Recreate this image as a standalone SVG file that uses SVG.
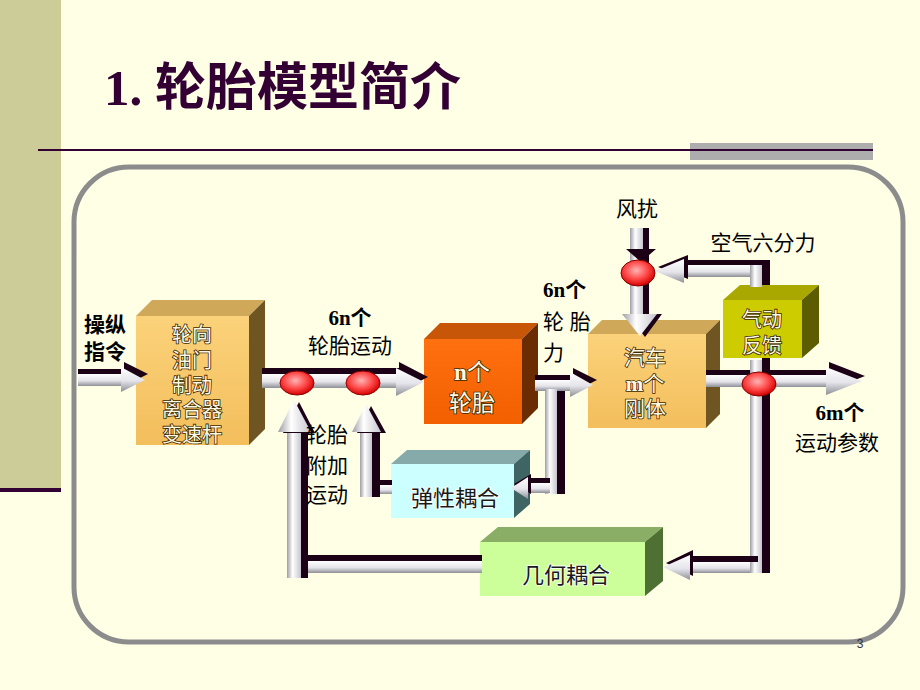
<svg xmlns="http://www.w3.org/2000/svg" width="920" height="690" viewBox="0 0 920 690">
<defs>
<linearGradient id="hs" x1="0" y1="0" x2="0" y2="1"><stop offset="0" stop-color="#FFFFFF"/><stop offset="0.55" stop-color="#E4E4EA"/><stop offset="1" stop-color="#8E8E96"/></linearGradient>
<linearGradient id="vs" x1="0" y1="0" x2="1" y2="0"><stop offset="0" stop-color="#9C9CA4"/><stop offset="0.4" stop-color="#FFFFFF"/><stop offset="1" stop-color="#C4C4CC"/></linearGradient>
<radialGradient id="red" cx="0.45" cy="0.4" r="0.6"><stop offset="0" stop-color="#FFB4B4"/><stop offset="0.55" stop-color="#FF4A4A"/><stop offset="1" stop-color="#D40000"/></radialGradient>
<linearGradient id="gold" x1="0" y1="0" x2="0" y2="1"><stop offset="0" stop-color="#FBD27A"/><stop offset="1" stop-color="#F3BE5C"/></linearGradient>
<linearGradient id="orange" x1="0" y1="0" x2="0" y2="1"><stop offset="0" stop-color="#FF7010"/><stop offset="1" stop-color="#F26000"/></linearGradient>
<style>
.dk{fill:#1C0016}
.hs{fill:url(#hs)}
.vs{fill:url(#vs)}
.el{fill:url(#red);stroke:#8A0000;stroke-width:1}
.lab{font-family:"Liberation Sans","Noto Sans CJK SC",sans-serif;font-size:21px;fill:#000}
.b{font-weight:bold}
.ser{font-family:"Liberation Serif",serif;font-weight:bold}
.lt{font-family:"Liberation Sans","Noto Sans CJK SC",sans-serif;fill:#FFF8E2;stroke:#3A2800;stroke-width:1.6;paint-order:stroke;text-anchor:middle}
.dt{font-family:"Liberation Sans","Noto Sans CJK SC",sans-serif;fill:#1A1A1A;stroke:#FFFFFF;stroke-width:1.6;paint-order:stroke;text-anchor:middle;font-size:22px}
</style>
</defs>
<rect x="0" y="0" width="920" height="690" fill="#FFFFE6"/>
<rect x="0" y="0" width="61" height="490" fill="#CCCC99"/>
<rect x="0" y="488" width="61" height="4" fill="#330033"/>
<text x="104" y="105" font-family="Liberation Serif,'Noto Sans CJK SC',serif" font-weight="bold" font-size="51" fill="#330033">1. <tspan font-family="Noto Sans CJK SC,sans-serif">轮胎模型简介</tspan></text>
<rect x="690" y="143" width="183" height="17" fill="#ADADAD"/>
<line x1="38" y1="150" x2="873" y2="150" stroke="#330033" stroke-width="2"/>
<rect x="74" y="167" width="829" height="475" rx="55" ry="55" fill="none" stroke="#8C8C8C" stroke-width="5"/>
<text x="860" y="648" font-family="Liberation Sans,sans-serif" font-size="12" fill="#333" text-anchor="middle">3</text>

<g id="box-control">
<polygon points="136,316 152,300 265,300 249,316" fill="#CFA85A"/>
<polygon points="249,316 265,300 265,429 249,445" fill="#6E5522"/>
<rect x="136" y="316" width="113" height="129" fill="url(#gold)"/>
<text class="lt" font-size="20"><tspan x="192" y="342">轮向</tspan><tspan x="192" y="368">油门</tspan><tspan x="192" y="393">制动</tspan><tspan x="192" y="417">离合器</tspan><tspan x="192" y="442">变速杆</tspan></text>
</g>
<g id="box-tire">
<polygon points="424,339 440,323 538,323 522,339" fill="#C85608"/>
<polygon points="522,339 538,323 538,408 522,424" fill="#6A2C00"/>
<rect x="424" y="339" width="98" height="85" fill="url(#orange)"/>
<text class="lt" font-size="23"><tspan x="472" y="380"><tspan class="ser">n</tspan>个</tspan><tspan x="472" y="411">轮胎</tspan></text>
</g>
<g id="box-body">
<polygon points="588,334 602,320 720,320 706,334" fill="#CFA85A"/>
<polygon points="706,334 720,320 720,414 706,428" fill="#6E5522"/>
<rect x="588" y="334" width="118" height="94" fill="url(#gold)"/>
<text class="lt" font-size="21"><tspan x="645" y="365">汽车</tspan><tspan x="645" y="391"><tspan class="ser">m</tspan>个</tspan><tspan x="645" y="416">刚体</tspan></text>
</g>
<g id="box-aero">
<polygon points="723,300 740,285 819,285 802,300" fill="#A8A800"/>
<polygon points="802,300 819,285 819,343 802,358" fill="#5C5C00"/>
<rect x="723" y="300" width="79" height="58" fill="#CCCC00"/>
<text class="lt" font-size="20"><tspan x="762" y="327">气动</tspan><tspan x="762" y="353">反馈</tspan></text>
</g>
<g id="box-elastic">
<polygon points="391,464 407,450 530,450 514,464" fill="#86AAAA"/>
<polygon points="514,464 530,450 530,504 514,518" fill="#3F6464"/>
<rect x="391" y="464" width="123" height="54" fill="#CCFFFF"/>
<text class="dt" x="455" y="506">弹性耦合</text>
</g>
<g id="box-geom">
<polygon points="480,542 498,527 663,527 645,542" fill="#8AAE66"/>
<polygon points="645,542 663,527 663,581 645,596" fill="#4F7033"/>
<rect x="480" y="542" width="165" height="54" fill="#CCFF99"/>
<text class="dt" x="566" y="583">几何耦合</text>
</g>

<g id="connectors">
<rect class="dk" x="78" y="369" width="46" height="5"/>
<rect class="hs" x="78" y="374" width="46" height="12"/>
<polygon class="dk" points="124,362 148,374 124,386"/>
<polygon class="hs" points="121,367 145,380 121,392"/>
<rect class="dk" x="262" y="368" width="138" height="6"/>
<rect class="hs" x="262" y="374" width="138" height="14"/>
<polygon class="dk" points="399,362 428,377 399,392"/>
<polygon class="hs" points="396,368 424,382 396,396"/>
<rect class="dk" x="300" y="555" width="182" height="6"/>
<rect class="hs" x="300" y="561" width="182" height="12"/>
<rect class="vs" x="287" y="430" width="14" height="148"/>
<rect class="dk" x="301" y="432" width="7" height="146"/>
<polygon class="dk" points="283,433 299,402 315,433"/>
<polygon class="vs" points="278,432 294,400 311,432"/>
<rect class="dk" x="376" y="480" width="16" height="5"/>
<rect class="hs" x="376" y="485" width="16" height="9"/>
<rect class="vs" x="360" y="430" width="12" height="67"/>
<rect class="dk" x="372" y="432" width="8" height="65"/>
<polygon class="dk" points="357,433 371,406 386,433"/>
<polygon class="vs" points="352,432 366,404 381,432"/>
<rect class="dk" x="535" y="375" width="38" height="5"/>
<rect class="hs" x="535" y="380" width="38" height="11"/>
<polygon class="dk" points="573,368 597,380 573,392"/>
<polygon class="hs" points="570,372 593,385 570,397"/>
<rect class="vs" x="545" y="389" width="12" height="105"/>
<rect class="dk" x="557" y="391" width="8" height="103"/>
<rect class="dk" x="526" y="478" width="24" height="5"/>
<rect class="hs" x="526" y="483" width="24" height="10"/>
<polygon class="dk" points="531,474 514,484 531,494"/>
<polygon class="hs" points="528,477 511,488 528,499"/>
<rect class="dk" x="706" y="370" width="122" height="5"/>
<rect class="hs" x="706" y="375" width="122" height="12"/>
<polygon class="dk" points="829,362 865,376 829,390"/>
<polygon class="hs" points="826,367 862,381 826,395"/>
<rect class="vs" x="750" y="388" width="12" height="185"/>
<rect class="dk" x="762" y="390" width="8" height="183"/>
<rect class="dk" x="686" y="556" width="72" height="6"/>
<rect class="hs" x="686" y="562" width="64" height="11"/>
<polygon class="dk" points="693,550 666,563 693,576"/>
<polygon class="hs" points="690,555 663,567 690,580"/>
<rect class="vs" x="750" y="360" width="12" height="28"/>
<rect class="dk" x="762" y="358" width="8" height="30"/>
<rect class="vs" x="750" y="265" width="12" height="22"/>
<rect class="dk" x="762" y="260" width="8" height="25"/>
<rect class="dk" x="682" y="260" width="80" height="5"/>
<rect class="hs" x="682" y="265" width="68" height="12"/>
<polygon class="dk" points="688,255 658,267 688,279"/>
<polygon class="hs" points="684,259 655,271 684,283"/>
<rect class="vs" x="630" y="228" width="13" height="88"/>
<rect class="dk" x="643" y="228" width="6" height="88"/>
<polygon class="dk" points="626,249 641,262 656,249"/>
<polygon class="dk" points="628,314 645,337 662,314"/>
<polygon class="vs" points="622,314 640,336 657,314"/>
<ellipse class="el" cx="297" cy="383" rx="17" ry="12"/>
<ellipse class="el" cx="363" cy="383" rx="17" ry="12"/>
<ellipse class="el" cx="759" cy="384" rx="17" ry="12"/>
<ellipse class="el" cx="638" cy="273" rx="17" ry="13"/>
</g>

<g id="labels">
<text class="lab b" text-anchor="middle"><tspan x="105" y="332">操纵</tspan><tspan x="105" y="359">指令</tspan></text>
<text class="lab b" x="350" y="325" text-anchor="middle"><tspan class="ser">6n</tspan>个</text>
<text class="lab" x="350" y="353" text-anchor="middle">轮胎运动</text>
<text class="lab b" x="543" y="297"><tspan class="ser">6n</tspan>个</text>
<text class="lab" x="543" y="329">轮 胎</text>
<text class="lab" x="543" y="360">力</text>
<text class="lab" x="637" y="216" font-size="20" text-anchor="middle">风扰</text>
<text class="lab" x="763" y="250" font-size="20" text-anchor="middle">空气六分力</text>
<text class="lab b" x="840" y="420" font-size="20" text-anchor="middle"><tspan class="ser">6m</tspan>个</text>
<text class="lab" x="837" y="450" font-size="20" text-anchor="middle">运动参数</text>
<text class="lab"><tspan x="306" y="442">轮胎</tspan><tspan x="306" y="473">附加</tspan><tspan x="306" y="502">运动</tspan></text>
</g>
</svg>
